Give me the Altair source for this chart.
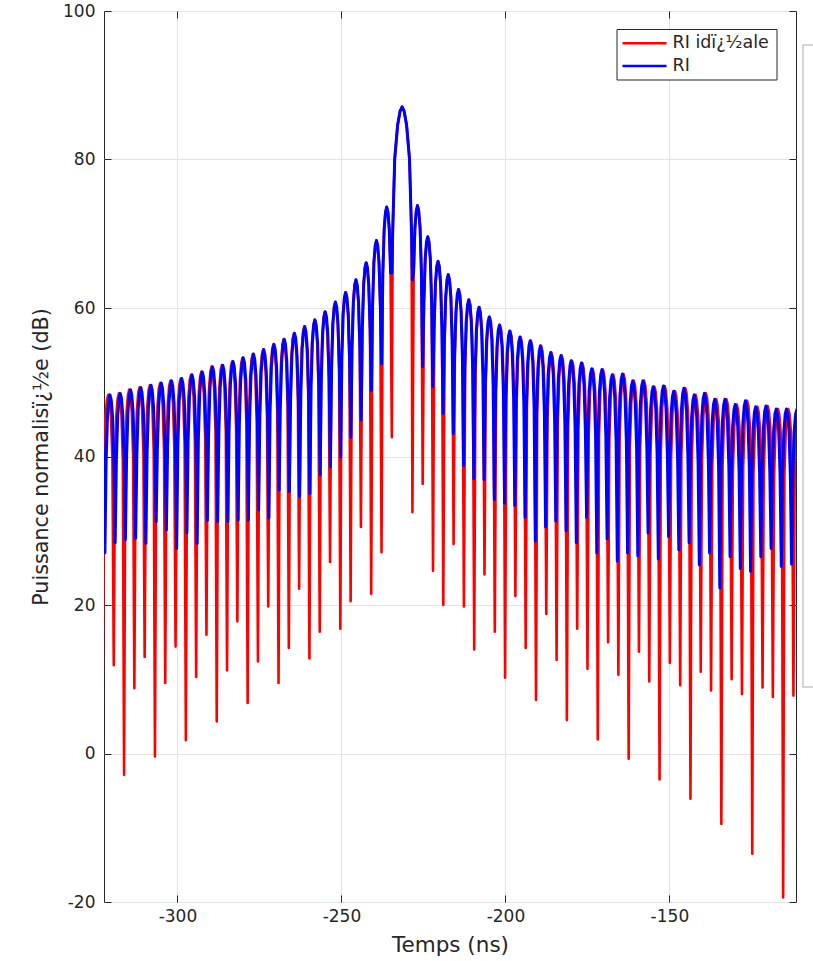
import altair as alt
import pandas as pd

# ---------------- data ----------------
# Null (minimum) positions in ns, from left to right (first and last lie just outside the view)
RED_NULL_T = [-325.94, -322.80, -319.42, -316.28, -313.14, -310.00, -306.86, -303.72, -300.58, -297.44,
              -294.30, -291.16, -288.02, -284.88, -281.74, -278.60, -275.46, -272.32, -269.18, -266.04,
              -262.90, -259.76, -256.62, -253.48, -250.34, -247.20, -244.06, -240.92, -237.78, -234.64,
              -228.36, -225.22, -222.08, -218.94, -215.80, -212.66, -209.52, -206.38, -203.24, -200.10,
              -196.96, -193.82, -190.68, -187.54, -184.40, -181.26, -178.12, -174.98, -171.84, -168.70,
              -165.56, -162.42, -159.28, -156.14, -153.00, -149.86, -146.72, -143.58, -140.44, -137.30,
              -134.16, -131.02, -127.88, -124.74, -121.60, -118.46, -115.32, -112.18, -109.04]
RED_NULL_DB = [-5.0, 8.2, 11.9, -2.9, 8.8, 13.0, -0.4, 9.5, 14.4, 1.8,
               10.3, 16.0, 4.3, 11.2, 17.8, 6.8, 12.4, 19.8, 9.5, 14.2,
               22.2, 12.8, 16.4, 25.8, 16.8, 20.5, 30.5, 21.5, 27.1, 42.6,
               32.5, 36.3, 24.6, 20.0, 28.2, 19.8, 14.0, 24.1, 16.4, 10.2,
               21.2, 14.2, 7.2, 18.8, 12.6, 4.5, 16.8, 11.4, 1.9, 15.0,
               10.6, -0.7, 13.7, 9.7, -3.5, 12.2, 9.2, -6.1, 11.0, 8.5,
               -9.5, 10.0, 8.0, -13.5, 8.9, 7.6, -19.4, 7.8, 7.3]

BLUE_NULL_T = [-325.25, -322.13, -319.00, -315.88, -312.75, -309.63, -306.50, -303.38, -300.25, -297.13,
               -294.00, -290.88, -287.75, -284.63, -281.50, -278.38, -275.25, -272.13, -269.00, -265.88,
               -262.75, -259.63, -256.50, -253.38, -250.25, -247.13, -244.00, -240.88, -237.75, -234.63,
               -228.38, -225.25, -222.13, -219.00, -215.88, -212.75, -209.63, -206.50, -203.38, -200.25,
               -197.13, -194.00, -190.88, -187.75, -184.63, -181.50, -178.38, -175.25, -172.13, -169.00,
               -165.88, -162.75, -159.63, -156.50, -153.38, -150.25, -147.13, -144.00, -140.88, -137.75,
               -134.63, -131.50, -128.38, -125.25, -122.13, -119.00, -115.88, -112.75, -109.63]
BLUE_NULL_DB = [27.0, 27.0, 28.4, 28.8, 29.0, 28.3, 31.2, 30.1, 27.6, 29.7,
                28.3, 31.4, 31.2, 31.2, 31.4, 31.4, 32.8, 31.7, 35.5, 35.3,
                34.6, 35.0, 37.5, 38.6, 39.9, 42.6, 44.9, 48.9, 52.5, 64.7,
                63.8, 52.1, 49.4, 45.8, 43.1, 38.8, 37.0, 36.9, 34.2, 33.7,
                33.4, 31.8, 28.6, 30.5, 31.3, 30.0, 28.4, 31.8, 27.0, 28.9,
                25.9, 27.0, 26.6, 29.7, 26.2, 29.2, 27.4, 28.4, 25.4, 27.0,
                22.3, 26.5, 24.9, 24.5, 26.5, 27.6, 25.2, 25.5, 26.0]

# Peak of each lobe (between consecutive nulls), left to right; index 29 is the main lobe
LOBE_PEAK_DB = [48.0, 48.3, 48.5, 49.0, 49.3, 49.6, 49.9, 50.2, 50.5, 51.0,
                51.4, 52.1, 52.3, 52.8, 53.3, 53.8, 54.4, 55.1, 55.8, 56.6,
                57.5, 58.4, 59.5, 60.8, 62.1, 63.8, 66.1, 69.1, 73.6,
                87.1,
                73.8, 69.6, 66.3, 64.5, 62.5, 61.1, 60.1, 58.8, 57.7, 56.9,
                56.1, 55.6, 54.9, 54.0, 53.6, 52.9, 52.6, 51.8, 51.7, 51.0,
                51.1, 50.2, 50.2, 49.4, 49.5, 48.8, 49.2, 48.3, 48.5, 47.7,
                47.7, 47.0, 47.5, 46.7, 46.8, 46.4, 46.4, 46.3]
MAIN_LOBE = 29

# Lobe shape (fraction across the lobe, dB below the lobe peak)
SIDE_FRAC = [0.12, 0.25, 0.38, 0.5, 0.62, 0.75, 0.88]
SIDE_DROP = [9.0, 3.0, 0.7, 0.0, 0.7, 3.0, 9.0]
MAIN_FRAC = [0.04, 0.14, 0.28, 0.40, 0.5, 0.60, 0.72, 0.86, 0.96]
MAIN_DROP = [17.0, 7.0, 2.5, 0.6, 0.0, 0.6, 2.5, 7.0, 17.0]

X_TICKS = [-300, -250, -200, -150]
Y_TICKS = [-20, 0, 20, 40, 60, 80, 100]
SERIES = ["RI idï¿½ale", "RI"]


def build(null_t, null_db, name):
    rows = []
    for i, peak in enumerate(LOBE_PEAK_DB):
        t0, t1 = null_t[i], null_t[i + 1]
        n0, n1 = null_db[i], null_db[i + 1]
        rows.append((t0, n0))
        fr, dr = (MAIN_FRAC, MAIN_DROP) if i == MAIN_LOBE else (SIDE_FRAC, SIDE_DROP)
        for f, d in zip(fr, dr):
            floor = n0 if f < 0.5 else n1
            rows.append((t0 + f * (t1 - t0), max(peak - d, floor)))
    rows.append((null_t[-1], null_db[-1]))
    df = pd.DataFrame(rows, columns=["t", "db"])
    df["i"] = range(len(df))
    df["s"] = name
    return df


red_df = build(RED_NULL_T, RED_NULL_DB, SERIES[0])
blue_df = build(BLUE_NULL_T, BLUE_NULL_DB, SERIES[1])

AX = "#262626"
FONT = "DejaVu Sans"
x_scale = alt.Scale(domain=[-322.4, -111.4], nice=False, zero=False)
y_scale = alt.Scale(domain=[-20, 100], nice=False, zero=False)

grid = alt.Chart(red_df).mark_line(opacity=0).encode(
    x=alt.X("t:Q", scale=x_scale, title="",
            axis=alt.Axis(orient="bottom", values=X_TICKS, grid=True, gridColor="#e3e3e3",
                          gridWidth=1, labels=False, ticks=False, domain=False)),
    y=alt.Y("db:Q", scale=y_scale, title="",
            axis=alt.Axis(orient="left", values=Y_TICKS, grid=True, gridColor="#e3e3e3",
                          gridWidth=1, labels=False, ticks=False, domain=False)),
)

red = alt.Chart(red_df).mark_line(color="#ff0000", strokeWidth=2.6, clip=True, strokeJoin="round").encode(
    x=alt.X("t:Q", scale=x_scale, title="Temps (ns)",
            axis=alt.Axis(orient="bottom", values=X_TICKS, grid=False, domain=False,
                          offset=-7, tickSize=7, tickColor=AX, tickWidth=1,
                          labelExpr="'' + datum.value", labelFont=FONT, labelFontSize=17,
                          labelColor=AX, labelPadding=6,
                          titleFont=FONT, titleFontSize=21.5, titleFontWeight="normal",
                          titleColor=AX, titlePadding=10)),
    y=alt.Y("db:Q", scale=y_scale, title="Puissance normalisï¿½e (dB)",
            axis=alt.Axis(orient="left", values=Y_TICKS, grid=False, domain=False,
                          offset=-7, tickSize=7, tickColor=AX, tickWidth=1,
                          labelExpr="'' + datum.value", labelFont=FONT, labelFontSize=17,
                          labelColor=AX, labelPadding=9,
                          titleFont=FONT, titleFontSize=20.7, titleFontWeight="normal",
                          titleColor=AX, titlePadding=11)),
    order=alt.Order("i:Q"),
)

blue = alt.Chart(blue_df).mark_line(color="#0000ff", strokeWidth=3.0, clip=True, strokeJoin="round").encode(
    x=alt.X("t:Q", scale=x_scale, title="",
            axis=alt.Axis(orient="top", values=X_TICKS, grid=False, domain=False, labels=False,
                          offset=-7, tickSize=7, tickColor=AX, tickWidth=1)),
    y=alt.Y("db:Q", scale=y_scale, title="",
            axis=alt.Axis(orient="right", values=Y_TICKS, grid=False, domain=False, labels=False,
                          offset=-7, tickSize=7, tickColor=AX, tickWidth=1)),
    order=alt.Order("i:Q"),
)

one = pd.DataFrame({"k": [0]})
legend_box = alt.Chart(one).mark_rect(fill="white", stroke=AX, strokeWidth=1).encode(
    x=alt.value(513), x2=alt.value(673), y=alt.value(18.5), y2=alt.value(69))
leg_red = alt.Chart(one).mark_rule(color="#ff0000", strokeWidth=2.5).encode(
    x=alt.value(518.5), x2=alt.value(562.5), y=alt.value(32.3))
leg_blue = alt.Chart(one).mark_rule(color="#0000ff", strokeWidth=2.5).encode(
    x=alt.value(518.5), x2=alt.value(562.5), y=alt.value(55))
leg_t1 = alt.Chart(one).mark_text(align="left", baseline="middle", font=FONT, fontSize=17.5, color=AX).encode(
    x=alt.value(568.5), y=alt.value(32.3), text=alt.value(SERIES[0]))
leg_t2 = alt.Chart(one).mark_text(align="left", baseline="middle", font=FONT, fontSize=17.5, color=AX).encode(
    x=alt.value(568.5), y=alt.value(55), text=alt.value(SERIES[1]))
side_box = alt.Chart(one).mark_rect(fill="white", stroke="#c8c8c8", strokeWidth=1.5).encode(
    x=alt.value(699), x2=alt.value(730), y=alt.value(34), y2=alt.value(676))

chart = alt.layer(grid, red, blue, legend_box, leg_red, leg_blue, leg_t1, leg_t2, side_box).resolve_axis(
    x="independent", y="independent"
).properties(
    width=692, height=891,
    autosize=alt.AutoSizeParams(type="none"),
    padding={"left": 104, "top": 11, "right": 17, "bottom": 59},
    background="white",
).configure_view(stroke=AX, strokeWidth=1)

chart.save("out.html", embed_options={"renderer": "svg", "actions": False})
